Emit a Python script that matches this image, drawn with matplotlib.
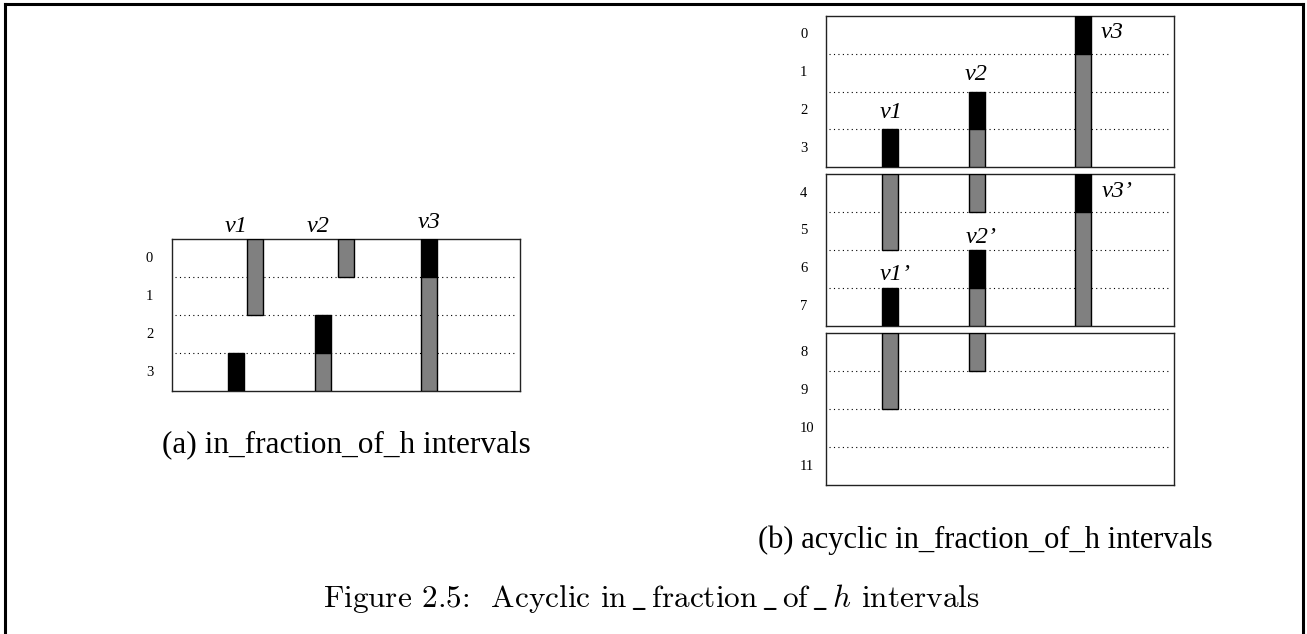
import matplotlib
matplotlib.use("Agg")
import matplotlib.pyplot as plt
from matplotlib.lines import Line2D

plt.rcParams['font.family'] = ['Liberation Serif', 'DejaVu Serif']
plt.rcParams['mathtext.fontset'] = 'cm'

W, H = 1307, 634

# interval segments: (column x, start row, end row, colour)
seg_a = [
    (64, 3, 4, 'black'), (83, 0, 2, 'gray'),
    (151, 2, 3, 'black'), (151, 3, 4, 'gray'), (173.5, 0, 1, 'gray'),
    (257, 0, 1, 'black'), (257, 1, 4, 'gray'),
]
seg_b = [
    (64, 3, 4, 'black'), (64, 4, 6, 'gray'),
    (151, 2, 3, 'black'), (151, 3, 5, 'gray'),
    (257, 0, 1, 'black'), (257, 1, 4, 'gray'),
    (257, 4, 5, 'black'), (257, 5, 8, 'gray'),
    (151, 6, 7, 'black'), (151, 7, 9, 'gray'),
    (64, 7, 8, 'black'), (64, 8, 10, 'gray'),
]
labels_a = ['v1', 'v2', 'v3']
labels_b = ['v1', 'v2', 'v3', "v3\u2019", "v2\u2019", "v1\u2019"]
rows_a = [str(i) for i in range(4)]
rows_b = [str(i) for i in range(12)]

caption_a = '(a) in_fraction_of_h intervals'
caption_b = '(b) acyclic in_fraction_of_h intervals'
main_caption = (r'$\text{Figure 2.5:  Acyclic in}\,\_\,\text{fraction}\,\_\,\text{of}\,\_\,'
                r'h\text{ intervals}$')

colors = {'black': 'black', 'gray': '#808080'}
BAR_W = 16

fig = plt.figure(figsize=(W / 100, H / 100), dpi=100)


def px_axes(x0, y0, x1, y1):
    return fig.add_axes([x0 / W, 1 - y1 / H, (x1 - x0) / W, (y1 - y0) / H])


def draw_box(ax, first_row, segs, row_names):
    ax.set_xlim(0, 348)
    ax.set_ylim(first_row + 4, first_row)
    ax.set_xticks([])
    ax.set_yticks([])
    for s in ax.spines.values():
        s.set_linewidth(1.0)
        s.set_color('#222222')
    for r in range(first_row + 1, first_row + 4):
        ax.axhline(r, xmin=0.008, xmax=0.985, color='black', lw=0.8,
                   ls=(0, (1, 3)), zorder=1)
    for x, a, b, c in segs:
        lo, hi = max(a, first_row), min(b, first_row + 4)
        if hi <= lo:
            continue
        ax.bar(x, hi - lo, bottom=lo, width=BAR_W, color=colors[c],
               edgecolor='black', lw=1.0, zorder=3)
    for r in range(first_row, first_row + 4):
        ax.text(-26, r + 0.5, row_names[r], ha='left', va='center',
                fontsize=10.5, clip_on=False)


# panel (a)
ax_a = px_axes(172, 239, 520, 391)
draw_box(ax_a, 0, seg_a, rows_a)
for lab, x, y in zip(labels_a, [236, 318, 429], [232, 232, 228]):
    fig.text(x / W, 1 - y / H, lab, ha='center', va='baseline',
             fontsize=17.5, style='italic')
fig.text(346 / W, 1 - 452 / H, caption_a, ha='center', va='baseline', fontsize=22.5)

# panel (b)
for k, (y0, y1) in enumerate([(16, 167), (174, 326), (333, 485)]):
    ax = px_axes(826, y0, 1174, y1)
    draw_box(ax, 4 * k, seg_b, rows_b)
for lab, x, y in zip(labels_b, [891, 976, 1112, 1117, 981, 895],
                     [118, 80, 38, 197, 243, 280]):
    fig.text(x / W, 1 - y / H, lab, ha='center', va='baseline',
             fontsize=17.5, style='italic')
fig.text(985 / W, 1 - 548 / H, caption_b, ha='center', va='baseline', fontsize=22)

fig.text(651 / W, 1 - 607 / H, main_caption, ha='center', va='baseline', fontsize=22.5)

# page frame
for xs, ys in [([5, 1303], [4, 4]), ([5, 5], [4, 634]), ([1303, 1303], [4, 634])]:
    fig.add_artist(Line2D([x / W for x in xs], [1 - y / H for y in ys],
                          color='black', lw=2.2))

fig.savefig('out.png', dpi=100)
